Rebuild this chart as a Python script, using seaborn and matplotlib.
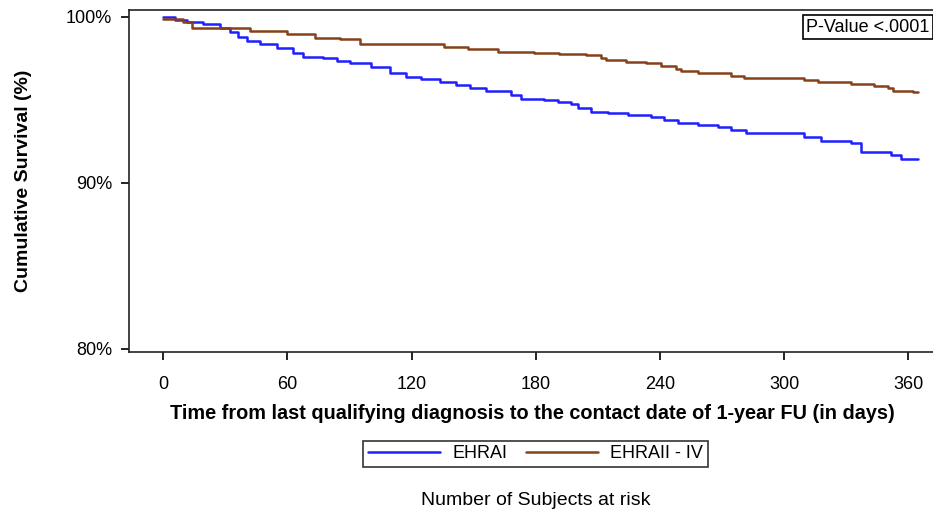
import numpy as np
import pandas as pd
import matplotlib
matplotlib.use('Agg')
import matplotlib.pyplot as plt
import seaborn as sns

# step points (day, cumulative survival %)
ehra1_days = [0, 5.8, 11.6, 19.4, 27.6, 32.4, 36.3, 40.6, 46.9, 55.2, 62.9, 67.7, 77.4, 84.2,
              90.5, 100.2, 109.8, 117.1, 124.4, 134.0, 141.3, 148.5, 155.8, 167.9, 172.7,
              183.9, 190.6, 196.9, 200.3, 206.6, 214.8, 224.5, 235.6, 241.9, 248.7, 258.4,
              268.1, 274.4, 281.6, 309.7, 317.9, 332.4, 337.3, 351.8, 356.6, 364.8]
ehra1_surv = [100.0, 99.82, 99.70, 99.58, 99.34, 99.10, 98.80, 98.55, 98.37, 98.13, 97.83, 97.59,
              97.53, 97.35, 97.23, 96.99, 96.63, 96.39, 96.27, 96.08, 95.90, 95.72, 95.54, 95.30,
              95.06, 95.00, 94.88, 94.76, 94.52, 94.28, 94.22, 94.10, 93.98, 93.80, 93.61, 93.49,
              93.37, 93.19, 93.01, 92.77, 92.53, 92.41, 91.87, 91.69, 91.45, 91.45]

ehra2_days = [0, 9.7, 14.0, 42.1, 60.0, 73.5, 85.6, 95.3, 135.5, 147.1, 161.6, 179.0, 191.1,
              204.2, 211.5, 213.9, 223.5, 233.2, 240.5, 247.7, 250.2, 258.4, 274.4, 280.6,
              309.7, 316.5, 332.4, 343.5, 350.3, 352.7, 362.4, 364.8]
ehra2_surv = [99.88, 99.70, 99.34, 99.16, 98.98, 98.73, 98.67, 98.37, 98.19, 98.07, 97.89, 97.83,
              97.77, 97.71, 97.53, 97.41, 97.29, 97.23, 97.05, 96.87, 96.75, 96.63, 96.45, 96.33,
              96.20, 96.08, 95.96, 95.84, 95.72, 95.54, 95.48, 95.48]

groups = ['EHRAI', 'EHRAII - IV']
colors = ['#1f1fff', '#86411a']
x_ticks = [0, 60, 120, 180, 240, 300, 360]
y_ticks = [80, 90, 100]
y_labels = ['80%', '90%', '100%']

df = pd.concat([
    pd.DataFrame({'day': ehra1_days, 'surv': ehra1_surv, 'group': groups[0]}),
    pd.DataFrame({'day': ehra2_days, 'surv': ehra2_surv, 'group': groups[1]}),
])

sns.set_style('ticks')
plt.rcParams['font.family'] = ['Liberation Sans', 'DejaVu Sans']
plt.rcParams['text.color'] = 'black'
plt.rcParams['axes.labelcolor'] = 'black'

fig = plt.figure(figsize=(9.33, 5.17), dpi=100)
ax = fig.add_axes([0.1383, 0.3191, 0.8617, 0.6616])

sns.lineplot(data=df, x='day', y='surv', hue='group', palette=colors, estimator=None,
             sort=False, drawstyle='steps-post', linewidth=1.8, ax=ax, legend=False)

ax.set_xlim(-16.5, 372)
ax.set_ylim(79.8, 100.42)
ax.set_xticks(x_ticks)
ax.set_xticklabels([str(t) for t in x_ticks], fontsize=13)
ax.set_yticks(y_ticks)
ax.set_yticklabels(y_labels, fontsize=13)
ax.tick_params(direction='out', length=6, width=1.2, colors='black', pad=6)
ax.tick_params(axis='x', pad=11)

for s in ['left', 'top', 'bottom']:
    ax.spines[s].set_linewidth(1.2)
    ax.spines[s].set_color('#222222')
ax.spines['right'].set_visible(False)

ax.set_xlabel('Time from last qualifying diagnosis to the contact date of 1-year FU (in days)',
              fontsize=14.3, fontweight='bold')
ax.xaxis.set_label_coords(0.502, -0.152)
ax.set_ylabel('Cumulative Survival (%)', fontsize=14, fontweight='bold')
ax.yaxis.set_label_coords(-0.121, 0.50)

ax.text(0.996, 0.975, 'P-Value <.0001', transform=ax.transAxes, ha='right', va='top',
        fontsize=13, bbox=dict(boxstyle='square,pad=0.2', fc='white', ec='black', lw=1.2))

handles = [plt.Line2D([], [], color=c, linewidth=1.8) for c in colors]
leg = fig.legend(handles, groups, loc='center', bbox_to_anchor=(0.574, 0.122), ncol=2,
                 frameon=True, fancybox=False, fontsize=13, handlelength=4.0,
                 columnspacing=1.0, handletextpad=0.7, borderpad=0.25, borderaxespad=0)
leg.get_frame().set_edgecolor('black')
leg.get_frame().set_linewidth(1.2)

fig.text(0.574, 0.031, 'Number of Subjects at risk', ha='center', va='center', fontsize=14)

fig.savefig('out.png', dpi=100)
